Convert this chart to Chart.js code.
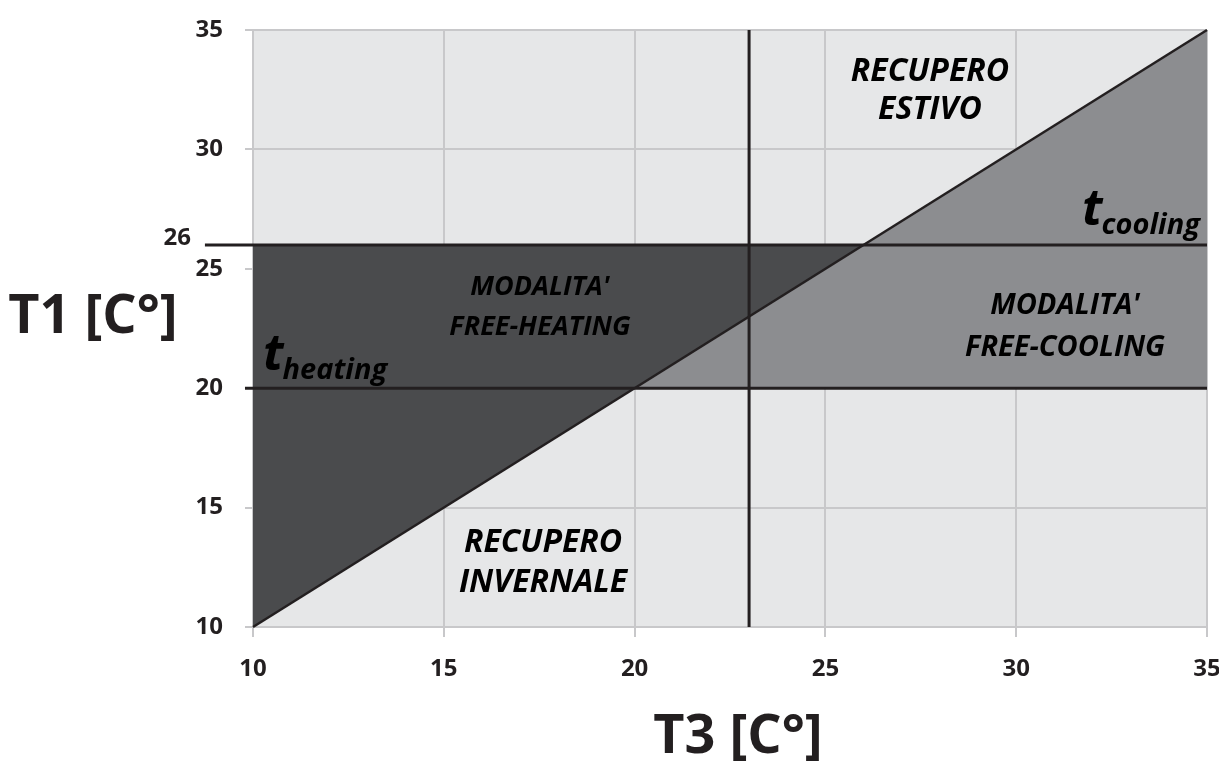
<!DOCTYPE html>
<html>
<head>
<meta charset="utf-8">
<script src="https://cdn.jsdelivr.net/npm/chart.js@4.4.1/dist/chart.umd.min.js"></script>
<style>
  html, body { margin: 0; padding: 0; background: #fff; }
  #wrap { width: 1219px; height: 762px; }
</style>
</head>
<body>
<div id="wrap"><canvas id="chart"></canvas></div>
<script>
// ticks on both axes (T3 on x, T1 on y)
const xTicks = [10, 15, 20, 25, 30, 35];
const yTicks = [10, 15, 20, 25, 30, 35];

// thresholds
const tHeating = 20;
const tCooling = 26;
const t3Split = 23;

// shaded zones and the T1 = T3 line
const freeHeatingZone = [{x: 10, y: 10}, {x: 10, y: 26}, {x: 26, y: 26}, {x: 10, y: 10}];
const freeCoolingZone = [{x: 20, y: 20}, {x: 35, y: 20}, {x: 35, y: 35}, {x: 20, y: 20}];
const diagonal = [{x: 10, y: 10}, {x: 35, y: 35}];

const INK = '#231f20';
const FONT = '"Open Sans", "Noto Sans", sans-serif';

// zone labels: centre of first line in data units
const zoneLabels = [
  {lines: ['RECUPERO', 'ESTIVO'], x: 27.74, y: 33.24, size: 32, gap: 38},
  {lines: ["MODALITA'", 'FREE-HEATING'], x: 17.52, y: 24.24, size: 27, gap: 40},
  {lines: ["MODALITA'", 'FREE-COOLING'], x: 31.28, y: 23.45, size: 29, gap: 42},
  {lines: ['RECUPERO', 'INVERNALE'], x: 17.6, y: 13.52, size: 32, gap: 40}
];

function hLine(y, xStart) {
  return [{x: xStart, y: y}, {x: 35, y: y}];
}

// black threshold lines go on top of the grid
const onTop = ds => ds.onTop === true;

const drawPlugin = {
  id: 'texts',
  beforeDraw(chart) {
    const {ctx, chartArea: a} = chart;
    ctx.save();
    ctx.fillStyle = '#e6e7e8';
    ctx.fillRect(a.left, a.top, a.right - a.left, a.bottom - a.top);
    ctx.restore();
  },
  beforeDatasetDraw(chart, args) {
    if (onTop(chart.data.datasets[args.index])) return false;
  },
  afterDraw(chart) {
    const {ctx} = chart;
    chart.data.datasets.forEach((ds, i) => {
      if (onTop(ds)) chart.getDatasetMeta(i).controller.draw();
    });

    const xs = chart.scales.x, ys = chart.scales.y;
    ctx.save();
    ctx.fillStyle = '#000';
    ctx.textAlign = 'center';
    ctx.textBaseline = 'middle';
    zoneLabels.forEach(l => {
      ctx.font = 'italic bold ' + l.size + 'px ' + FONT;
      const px = xs.getPixelForValue(l.x);
      const py = ys.getPixelForValue(l.y);
      l.lines.forEach((s, i) => ctx.fillText(s, px, py + i * l.gap));
    });

    // t_heating / t_cooling
    ctx.textAlign = 'left';
    ctx.textBaseline = 'alphabetic';
    function tSub(sub, x, y) {
      ctx.font = 'italic bold 50px ' + FONT;
      ctx.fillText('t', x, y);
      const w = ctx.measureText('t').width;
      ctx.font = 'italic bold 29px ' + FONT;
      ctx.fillText(sub, x + w - 1, y + 9);
    }
    tSub('heating', 263, ys.getPixelForValue(tHeating) - 18);
    tSub('cooling', 1082, ys.getPixelForValue(tCooling) - 20);

    // extra tick label for t_cooling
    ctx.fillStyle = INK;
    ctx.font = 'bold 24px ' + FONT;
    ctx.textAlign = 'right';
    ctx.textBaseline = 'middle';
    ctx.fillText(String(tCooling), 191, ys.getPixelForValue(tCooling) - 7);

    // axis titles
    ctx.font = 'bold 54px ' + FONT;
    ctx.textAlign = 'center';
    ctx.fillText('T1 [C°]', 93, 318);
    ctx.fillText('T3 [C°]', 738, 738);
    ctx.restore();
  }
};

const tickFont = {family: FONT, weight: 'bold', size: 24};

new Chart(document.getElementById('chart'), {
  type: 'scatter',
  data: {
    datasets: [
      {data: freeHeatingZone, showLine: true, borderWidth: 0, pointRadius: 0,
       backgroundColor: '#4a4b4d', borderColor: 'rgba(0,0,0,0)', fill: 'shape'},
      {data: freeCoolingZone, showLine: true, borderWidth: 0, pointRadius: 0,
       backgroundColor: '#8c8d90', borderColor: 'rgba(0,0,0,0)', fill: 'shape'},
      {data: diagonal, onTop: true, showLine: true, borderWidth: 2.5, pointRadius: 0, borderColor: INK},
      {data: hLine(tCooling, 8.74), onTop: true, showLine: true, borderWidth: 3, pointRadius: 0, borderColor: INK, clip: false},
      {data: hLine(tHeating, 9.79), onTop: true, showLine: true, borderWidth: 3, pointRadius: 0, borderColor: INK, clip: false},
      {data: [{x: t3Split, y: 10}, {x: t3Split, y: 35}], onTop: true, showLine: true, borderWidth: 3, pointRadius: 0, borderColor: INK}
    ]
  },
  options: {
    responsive: true,
    maintainAspectRatio: false,
    animation: false,
    events: [],
    layout: {padding: {top: 30, right: 12, bottom: 0, left: 0}},
    plugins: {legend: {display: false}, tooltip: {enabled: false}},
    scales: {
      x: {
        type: 'linear', min: 10, max: 35, z: 1,
        afterBuildTicks: axis => { axis.ticks = xTicks.map(v => ({value: v})); },
        afterFit: axis => { axis.height = 135; axis.paddingLeft = 0; axis.paddingRight = 0; },
        ticks: {font: tickFont, color: INK, padding: 18},
        grid: {color: '#c8c8ca', lineWidth: 2, tickLength: 10},
        border: {color: '#c8c8ca', width: 2}
      },
      y: {
        type: 'linear', min: 10, max: 35, z: 1,
        afterBuildTicks: axis => { axis.ticks = yTicks.map(v => ({value: v})); },
        afterFit: axis => { axis.width = 253; axis.paddingTop = 0; axis.paddingBottom = 0; },
        ticks: {font: tickFont, color: INK, padding: 22},
        grid: {color: '#c8c8ca', lineWidth: 2, tickLength: 8},
        border: {color: '#c8c8ca', width: 2}
      }
    }
  },
  plugins: [drawPlugin]
});
</script>
</body>
</html>
